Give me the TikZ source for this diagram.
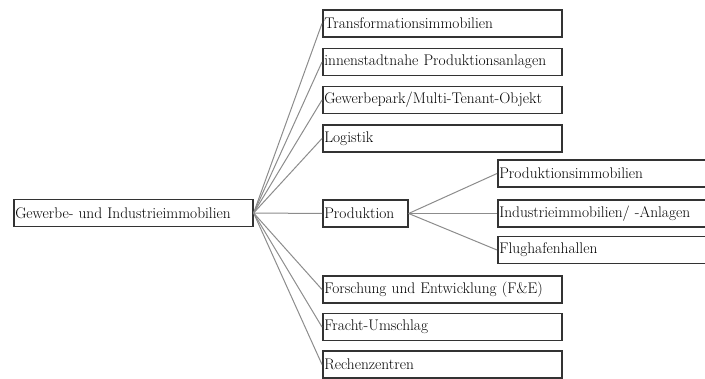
\documentclass[tikz,border=0pt]{standalone}
\usepackage{fontspec}
\begin{document}
\begin{tikzpicture}[x=1pt,y=-1pt]

        \useasboundingbox (0,0) rectangle (705,379);

        \begin{scope}[every node/.style={draw=black!80,line width=1.6pt,anchor=west,
            minimum height=27pt,inner xsep=1.5pt,text width=236pt,align=left,
            font=\fontsize{15.4}{17}\selectfont}]
          \node (root) at (13,213)  {Gewerbe- und Industrieimmobilien};
          \node (m1)  at (322,23.5) {Transformationsimmobilien};
          \node (m2)  at (322,62)   {innenstadtnahe Produktionsanlagen};
          \node (m3)  at (322,100)  {Gewerbepark/Multi-Tenant-Objekt};
          \node (m4)  at (322,138.5){Logistik};
          \node[text width=82pt] (prod) at (322,213.5) {Produktion};
          \node (m6)  at (322,289.5){Forschung und Entwicklung (F\&E)};
          \node (m7)  at (322,327)  {Fracht-Umschlag};
          \node (m8)  at (322,364.5){Rechenzentren};
          \node (r1)  at (497,173.5){Produktionsimmobilien};
          \node (r2)  at (497,213.5){Industrieimmobilien/ -Anlagen};
          \node (r3)  at (497,250)  {Flughafenhallen};
        \end{scope}

        \begin{scope}[every path/.style={draw=black!45,line width=1pt}]
          \foreach \n in {m1,m2,m3,m4,prod,m6,m7,m8}
            \path (root.east) edge (\n.west);
          \foreach \n in {r1,r2,r3}
            \path (prod.east) edge (\n.west);
        \end{scope}

      \end{tikzpicture}
\end{document}
